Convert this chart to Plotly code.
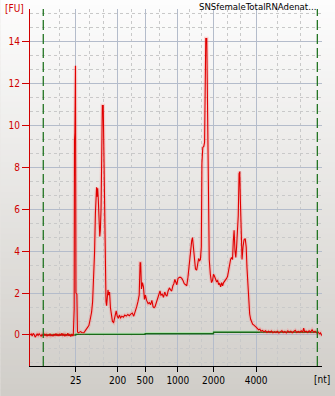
import plotly.graph_objects as go

# ---------------- data ----------------
# migration time (s) and fluorescence (FU) of the electropherogram
time_s = [
    19.46, 19.7, 19.9, 20.1, 20.3, 20.5, 20.7, 20.9, 21.1, 21.3,
    21.5, 21.7, 21.9, 22.1, 22.3, 22.5, 22.7, 22.9, 23.1, 23.3,
    23.5, 23.7, 23.9, 24.1, 24.3, 24.5, 24.7, 24.9, 25.1, 25.3,
    25.5, 25.7, 25.9, 26.1, 26.3, 26.5, 26.7, 26.9, 27.1, 27.3,
    27.5, 27.7, 27.9, 28.1, 28.2,
    28.28, 28.38, 28.44, 28.52, 28.64, 28.74, 28.92, 29.04, 29.20, 29.40,
    29.66, 29.90, 30.10, 30.34, 30.66, 31.00, 31.34, 31.66, 31.90, 32.10,
    32.34, 32.50, 32.66, 32.80, 32.90, 33.00, 33.12, 33.24, 33.40, 33.54,
    33.66, 33.80, 33.94, 34.06, 34.24, 34.36, 34.50, 34.64, 34.80, 34.92,
    35.06, 35.20, 35.36, 35.52, 35.70, 35.90, 36.10, 36.34, 36.60, 36.86,
    37.06, 37.30, 37.50, 37.74, 38.00, 38.30, 38.60, 38.90, 39.20, 39.50,
    39.80, 40.10, 40.40, 40.70, 41.00, 41.26, 41.50, 41.68, 41.80, 41.96,
    42.16, 42.36, 42.56, 42.76, 43.00, 43.30, 43.54, 43.80, 44.06, 44.30,
    44.50, 44.70, 44.90, 45.10, 45.30, 45.50, 45.70, 45.90, 46.14, 46.40,
    46.66, 46.90, 47.10, 47.34, 47.60, 47.84, 48.06, 48.30, 48.50, 48.70,
    48.90, 49.10, 49.34, 49.60, 49.86, 50.10, 50.34, 50.60, 50.86, 51.10,
    51.34, 51.60, 51.86, 52.10, 52.26, 52.46, 52.66, 52.86, 53.10, 53.34,
    53.50, 53.70, 53.86, 54.04, 54.16, 54.34, 54.54, 54.70, 54.84, 54.94,
    55.14, 55.22, 55.34, 55.46, 55.64, 55.86, 56.10, 56.30, 56.50, 56.70,
    56.90, 57.10, 57.34, 57.54, 57.74, 57.94, 58.14, 58.34, 58.54, 58.74,
    58.94, 59.14, 59.34, 59.54, 59.74, 59.94, 60.14, 60.34, 60.50, 60.66,
    60.84, 61.00, 61.16, 61.34, 61.50, 61.66, 61.80, 61.94, 62.08, 62.26,
    62.46, 62.66, 62.90, 63.10, 63.26, 63.44, 63.60, 63.80, 64.00, 64.20,
    64.40, 64.60, 64.84, 65.10, 65.34, 65.60, 65.86, 66.10, 66.40, 66.66,
    67.00, 67.30, 67.60, 67.90, 68.20, 68.50, 68.80, 69.10, 69.40, 69.70,
    70.00, 70.30, 70.60, 70.90, 71.20, 71.50, 71.80, 72.10, 72.40, 72.70,
    73.00, 73.30, 73.60, 73.90, 74.20, 74.50, 74.70, 74.90, 75.20, 75.50,
    75.80, 76.10, 76.40, 76.70, 77.00, 77.30, 77.60, 77.90, 78.10, 78.30,
    78.50,
]
fu = [
    0.00, 0.05, -0.05, 0.08, 0.02, -0.10, -0.03, 0.05, -0.02, 0.06,
    0.00, -0.06, 0.03, -0.04, 0.05, -0.02, 0.04, -0.05, 0.02, -0.03,
    0.06, -0.04, 0.01, -0.06, 0.05, -0.02, 0.07, -0.04, 0.03, -0.05,
    0.04, -0.03, 0.08, -0.02, 0.04, -0.06, 0.03, -0.02, 0.09, -0.04,
    0.02, -0.07, 0.05, -0.05, 0.00,
    1.15, 1.25, 9.3, 9.65, 12.85, 2.0, 1.95, 0.15, 0.10, 0.13,
    0.16, 0.12, 0.10, 0.11, 0.22, 0.32, 0.45, 0.80, 1.1, 1.6,
    2.9, 4.0, 5.8, 6.8, 7.05, 6.6, 7.0, 6.5, 4.9, 4.7,
    5.0, 6.0, 8.6, 10.95, 10.95, 8.6, 6.0, 3.2, 1.6, 1.4,
    2.0, 2.15, 1.9, 2.05, 1.3, 0.85, 0.65, 0.6, 0.85, 1.15,
    0.9, 0.8, 0.95, 0.82, 0.9, 0.85, 0.95, 0.9, 0.98, 0.92,
    1.0, 1.05, 0.9, 1.2, 1.35, 1.6, 1.9, 3.45, 3.45, 2.2,
    2.5, 2.3, 1.7, 1.9, 1.65, 1.5, 1.55, 1.45, 1.65, 1.35,
    1.3, 1.35, 1.5, 1.75, 1.85, 2.05, 2.1, 1.9, 1.95, 1.8,
    2.05, 1.9, 1.85, 2.1, 2.25, 2.15, 2.1, 2.35, 2.45, 2.65,
    2.5, 2.4, 2.7, 2.75, 2.75, 2.7, 2.6, 2.45, 2.4, 2.35,
    2.75, 3.4, 4.0, 4.5, 4.65, 4.2, 3.5, 3.15, 3.1, 3.45,
    3.65, 3.55, 3.6, 4.2, 8.2, 8.95, 9.0, 9.2, 11.8, 14.15,
    14.15, 11.8, 8.0, 5.0, 3.6, 2.9, 2.5, 2.6, 2.9, 2.8,
    2.7, 2.55, 2.6, 2.4, 2.45, 2.3, 2.5, 2.35, 2.5, 2.55,
    2.6, 2.7, 2.8, 3.1, 3.3, 3.6, 3.7, 3.6, 4.5, 5.0,
    4.0, 3.7, 4.2, 5.1, 5.7, 7.7, 7.8, 6.3, 4.5, 3.6,
    4.2, 4.55, 4.6, 4.2, 3.2, 2.4, 1.6, 1.0, 0.75, 0.6,
    0.52, 0.48, 0.45, 0.38, 0.32, 0.25, 0.28, 0.18, 0.22, 0.15,
    0.2, 0.12, 0.18, 0.13, 0.19, 0.11, 0.16, 0.12, 0.18, 0.1,
    0.15, 0.2, 0.12, 0.17, 0.1, 0.2, 0.13, 0.18, 0.11, 0.15,
    0.22, 0.12, 0.17, 0.13, 0.2, 0.14, 0.33, 0.15, 0.18, 0.12,
    0.2, 0.14, 0.25, 0.13, 0.18, 0.1, 0.14, 0.06, 0.1, 0.0,
    -0.03,
]
assert len(time_s) == len(fu)

# ladder (tick labels) and their migration times
ladder_nt = ["25", "200", "500", "1000", "2000", "4000"]
ladder_time = [28.7, 37.14, 42.7, 49.3, 56.5, 65.1]
minor_time = [19.66, 25.5, 31.5, 34.34, 40.0, 45.6, 51.66, 54.14, 59.34, 62.0, 69.46, 74.0]

# baseline (green, stepwise) and lower/upper analysis markers
baseline_time = [22.14, 28.7, 42.7, 56.5, 77.46]
baseline_fu = [0.0, 0.03, 0.06, 0.13, 0.13]
marker_time = [22.14, 77.46]

fu_ticks = [0, 2, 4, 6, 8, 10, 12, 14]
fu_minor = [k + f for k in range(-2, 16, 2) for f in (2 / 3, 4 / 3)]

X_RANGE = [19.46, 78.4]
Y_RANGE = [-1.48, 15.56]

W, H = 335, 396
ML, MR, MT, MB = 27, 13, 9, 30
PW, PH = W - ML - MR, H - MT - MB

RED = "#d00000"
FONT = "DejaVu Sans Condensed, Liberation Sans, sans-serif"

fig = go.Figure()

# background gradient (whole image, white at top -> grey at bottom)
shapes = []
n = 66
top = (253, 253, 253)
bot = (208, 205, 200)
for i in range(n):
    y_top_px = H * i / n
    y_bot_px = H * (i + 1) / n
    f = (i + 0.5) / n
    c = tuple(round(top[j] + (bot[j] - top[j]) * f) for j in range(3))
    shapes.append(dict(
        type="rect", xref="paper", yref="paper", layer="below",
        x0=-ML / PW - 0.01, x1=1 + MR / PW + 0.01,
        y0=(H - MB - y_bot_px) / PH - 0.001, y1=(H - MB - y_top_px) / PH + 0.001,
        line=dict(width=0), fillcolor="rgb(%d,%d,%d)" % c,
    ))

# analysis markers (green dashed verticals)
for t in marker_time:
    shapes.append(dict(
        type="line", xref="x", yref="paper", x0=t, x1=t, y0=0, y1=1,
        line=dict(color="#237523", width=1.3, dash="10px,4px"), layer="above",
    ))

# baseline (green)
fig.add_trace(go.Scatter(
    x=baseline_time, y=[v + 0.05 for v in baseline_fu], mode="lines", line_shape="hv",
    line=dict(color="#a8e6a8", width=1), hoverinfo="skip", showlegend=False,
))
fig.add_trace(go.Scatter(
    x=baseline_time, y=baseline_fu, mode="lines", line_shape="hv",
    line=dict(color="#1a6a1a", width=1.3), hoverinfo="skip", showlegend=False,
))

# glow + red trace
fig.add_trace(go.Scatter(
    x=time_s, y=fu, mode="lines",
    line=dict(color="rgba(255,120,120,0.28)", width=3.5), hoverinfo="skip", showlegend=False,
))
fig.add_trace(go.Scatter(
    x=time_s, y=fu, mode="lines",
    line=dict(color="#e00000", width=1.1), showlegend=False,
))

fig.update_layout(
    width=W, height=H,
    margin=dict(l=ML, r=MR, t=MT, b=MB, pad=0),
    paper_bgcolor="#e8e6e3", plot_bgcolor="rgba(0,0,0,0)",
    shapes=shapes,
    showlegend=False,
    font=dict(family=FONT, size=10, color="black"),
)
fig.update_xaxes(
    range=X_RANGE, tickmode="array", tickvals=ladder_time, ticktext=ladder_nt,
    ticks="outside", ticklen=5, tickcolor="black", tickwidth=1,
    showline=True, linecolor="black", linewidth=1,
    showgrid=True, gridcolor="#b4bccb", gridwidth=1, zeroline=False,
    tickfont=dict(family=FONT, size=10, color="black"),
    minor=dict(tickmode="array", tickvals=minor_time, showgrid=True,
               griddash="3px,3px", gridcolor="#c9c9c9", ticks=""),
    fixedrange=True,
)
fig.update_yaxes(
    range=Y_RANGE, tickmode="array", tickvals=fu_ticks,
    ticktext=[str(v) for v in fu_ticks],
    ticks="outside", ticklen=7, tickcolor=RED, tickwidth=1,
    showline=True, linecolor=RED, linewidth=1,
    showgrid=True, gridcolor="#b4bccb", gridwidth=1, zeroline=False,
    tickfont=dict(family=FONT, size=10, color=RED),
    minor=dict(tickmode="array", tickvals=fu_minor, showgrid=True,
               griddash="3px,3px", gridcolor="#c9c9c9", ticks=""),
    fixedrange=True,
)

fig.add_annotation(text="[FU]", xref="paper", yref="paper", x=-ML / PW, y=(H - MB - 8) / PH,
                   xanchor="left", yanchor="middle", showarrow=False,
                   font=dict(family=FONT, size=10, color=RED))
fig.add_annotation(text="SNSfemaleTotalRNAdenat...", xref="paper", yref="paper",
                   x=(318 - ML) / PW, y=(H - MB - 6) / PH, xanchor="right", yanchor="middle",
                   showarrow=False, font=dict(family=FONT, size=9.5, color="black"))
fig.add_annotation(text="[nt]", xref="paper", yref="paper",
                   x=1 + 0.5 / PW, y=-(379.5 - (H - MB)) / PH, xanchor="center", yanchor="middle",
                   showarrow=False, font=dict(family=FONT, size=10, color="black"))

fig.write_html("out.html")
